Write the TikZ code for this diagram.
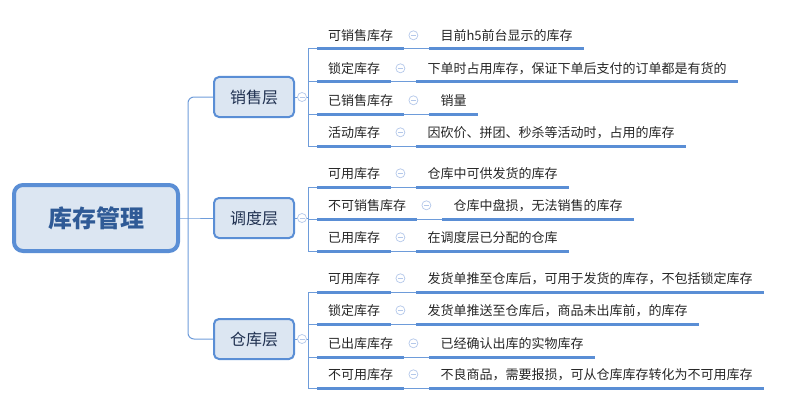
\documentclass[tikz,border=0pt]{standalone}
\usepackage{fontspec}
\newfontfamily\cjk{Noto Sans CJK SC}
\usetikzlibrary{positioning}
\definecolor{lineblue}{HTML}{5A8ED5}
\definecolor{linkblue}{HTML}{6E9CDA}
\definecolor{boxfill}{HTML}{DCE6F2}
\definecolor{rootblue}{HTML}{2F5A96}
\definecolor{catblue}{HTML}{1F3050}
\definecolor{foldblue}{HTML}{B4C8EA}

\begin{document}
\begin{tikzpicture}[x=1pt,y=-1pt,
  root/.style={draw=lineblue,line width=4pt,fill=boxfill,rounded corners=9pt,minimum width=164pt,minimum height=66pt,font=\cjk\bfseries\fontsize{24}{28}\selectfont,text=rootblue},
  layer/.style={draw=lineblue,line width=2pt,fill=boxfill,rounded corners=5pt,minimum width=80pt,minimum height=40pt,font=\cjk\fontsize{16}{19}\selectfont,text=catblue},
  leaf/.style={anchor=south west,inner xsep=11pt,inner ysep=5pt,text height=10pt,text depth=3pt,font=\cjk\fontsize{13}{15}\selectfont,text=black!85},
  desc/.style={leaf,anchor=west},
  uline/.style={lineblue,line width=3pt},
  link/.style={linkblue,line width=1pt},
  fold/.style={circle,draw=foldblue,fill=white,line width=0.7pt,minimum size=9pt,inner sep=0pt,
    path picture={\draw[foldblue,line width=0.7pt]([xshift=-2.5pt]path picture bounding box.center)--([xshift=2.5pt]path picture bounding box.center);}}]
\useasboundingbox (0,0) rectangle (798,412);

\node[root] (stock) at (96,218) {库存管理};
\node[layer] (sale) at (254,97) {销售层};
\node[layer] (dispatch) at (254,218) {调度层};
\node[layer] (store) at (254,339) {仓库层};

\coordinate (hub) at (188,218);
\draw[link] (stock.east)--(hub)--(dispatch.west);
\draw[link,rounded corners=6pt] (hub)|-(sale.west);
\draw[link,rounded corners=6pt] (hub)|-(store.west);

\foreach \k/\n/\y/\a/\b in {sale/1/49/可销售库存/目前h5前台显示的库存,
  sale/2/82/锁定库存/下单时占用库存，保证下单后支付的订单都是有货的,
  sale/3/114/已销售库存/销量,
  sale/4/146/活动库存/因砍价、拼团、秒杀等活动时，占用的库存,
  dispatch/1/187/可用库存/仓库中可供发货的库存,
  dispatch/2/219/不可销售库存/仓库中盘损，无法销售的库存,
  dispatch/3/251/已用库存/在调度层已分配的仓库,
  store/1/292/可用库存/发货单推至仓库后，可用于发货的库存，不包括锁定库存,
  store/2/324/锁定库存/发货单推送至仓库后，商品未出库前，的库存,
  store/3/357/已出库库存/已经确认出库的实物库存,
  store/4/388/不可用库存/不良商品，需要报损，可从仓库库存转化为不可用库存}{
  \node[leaf] (\k-l\n) at (317,\y) {\a};
  \node[desc,right=25pt of \k-l\n] (\k-d\n) {\b};
  \draw[link] (\k.east)--++(13,0)|-(\k-l\n.south west);
  \draw[link] (\k-l\n.south east)--(\k-d\n.south west);
  \draw[uline] (\k-l\n.south west)--(\k-l\n.south east);
  \draw[uline] (\k-d\n.south west)--(\k-d\n.south east);
  \node[fold] (\k-f\n) at ([xshift=9pt,yshift=2pt]\k-l\n.east) {};
}

\node[fold] (sale-f) at ([xshift=7pt]sale.east) {};
\node[fold] (dispatch-f) at ([xshift=7pt]dispatch.east) {};
\node[fold] (store-f) at ([xshift=7pt]store.east) {};

\end{tikzpicture}
\end{document}
